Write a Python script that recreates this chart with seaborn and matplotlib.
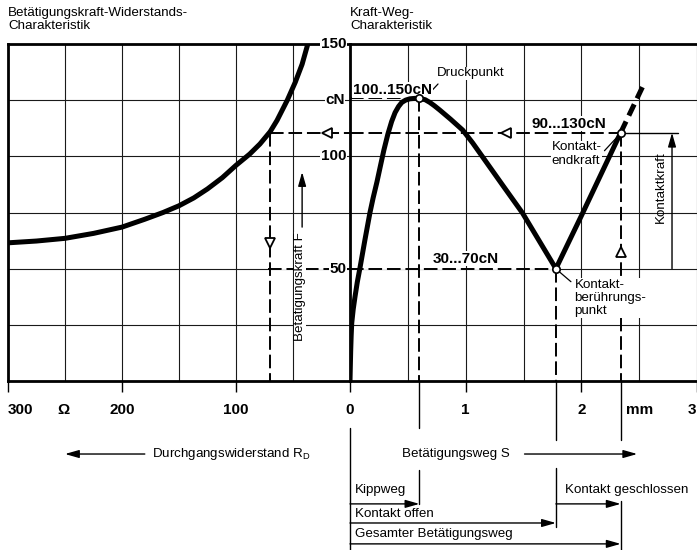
import matplotlib
matplotlib.use("Agg")
import matplotlib.pyplot as plt
import pandas as pd
import seaborn as sns

# ---- data -----------------------------------------------------------------
# Actuating force over contact resistance (left diagram)
resistance_ohm = [300, 275, 250, 225, 200, 180, 164, 150, 137, 125, 112, 100, 88, 79, 70, 64, 55,
                  48, 42, 37]
force_vs_resistance = [61.5, 62.3, 63.5, 65.7, 68.5, 72, 75, 78, 81.5, 85.5, 90.5, 96, 101, 105.5,
                       111, 116, 125, 133, 141, 150]

# Force over actuating travel (right diagram)
travel_mm = [0, 0.003, 0.006, 0.01, 0.015, 0.028, 0.043, 0.063, 0.086, 0.129, 0.172, 0.2, 0.233,
             0.262, 0.293, 0.328, 0.36, 0.39, 0.42, 0.448, 0.48, 0.517, 0.56, 0.6, 0.65, 0.69,
             0.73, 0.776, 0.87, 0.974, 1.06, 1.147, 1.319, 1.491, 1.78, 2.0, 2.34]
force_vs_travel = [0, 7, 13.4, 20, 25.8, 32, 37.4, 44, 50.3, 62.8, 74.8, 81.5, 88.6, 95.5, 102.8,
                   110, 115.5, 119.5, 122.2, 124, 125, 125.6, 125.8, 125.8, 125.2, 124, 122.5,
                   120.6, 116.5, 111.7, 106, 99.7, 87.2, 74.8, 50, 73.5, 110.5]
overtravel_mm = [2.34, 2.53]
overtravel_force = [110.5, 131]

# characteristic points
pressure_point = (0.6, 125.8)      # Druckpunkt
contact_touch = (1.78, 50)         # Kontaktberührungspunkt
contact_end = (2.34, 110.5)        # Kontaktendkraft
resistance_at_end_force = 70

ohm_ticks = [300, 200, 100]
mm_ticks = [0, 1, 2, 3]
force_labels = [150, 100, 50]
range_labels = ["100..150cN", "90...130cN", "30...70cN"]

# ---- style ----------------------------------------------------------------
sns.set_theme(style="white")
plt.rcParams["font.family"] = ["Liberation Sans", "DejaVu Sans"]
plt.rcParams["mathtext.fontset"] = "custom"
plt.rcParams["mathtext.rm"] = "Liberation Sans"
plt.rcParams["text.color"] = "black"

REG = dict(fontsize=9.6, color="black")
BOLD = dict(family=["Liberation Sans", "DejaVu Sans"], fontweight="bold", fontsize=11,
            color="black")
WHITE = dict(facecolor="white", edgecolor="none", pad=0.4)
DASH = (0, (7, 2.5))
GUIDE_LW = 1.4
CURVE_LW = 3.6

fig = plt.figure(figsize=(6.97, 5.5), dpi=100)
axL = fig.add_axes([8 / 697, 169 / 550, 342 / 697, 337 / 550])
axR = fig.add_axes([350 / 697, 169 / 550, 347 / 697, 337 / 550])

axL.set_xlim(300, 0)
axR.set_xlim(0, 2.99)
for ax in (axL, axR):
    ax.set_ylim(0, 150)
    ax.set_yticks(range(0, 151, 25))
    ax.set_yticklabels([])
    ax.tick_params(axis="y", length=0)
    ax.set_axisbelow(True)
    ax.grid(True, which="both", color="#1a1a1a", lw=0.8)
    ax.spines["right"].set_visible(False)
    for s in ("top", "left", "bottom"):
        ax.spines[s].set_linewidth(2.0)
        ax.spines[s].set_color("black")

axL.set_xticks(ohm_ticks)
axL.set_xticks([250, 150, 50, 0], minor=True)
axR.set_xticks(mm_ticks)
axR.set_xticks([0.5, 1.5, 2.5], minor=True)
for ax in (axL, axR):
    ax.set_xticklabels([])
    ax.tick_params(axis="x", which="major", direction="out", length=8, width=1, color="black",
                   bottom=True)
    ax.tick_params(axis="x", which="minor", length=0)

# ---- curves ---------------------------------------------------------------
df_res = pd.DataFrame({"R": resistance_ohm, "F": force_vs_resistance})
df_trv = pd.DataFrame({"s": travel_mm, "F": force_vs_travel})
df_ovr = pd.DataFrame({"s": overtravel_mm, "F": overtravel_force})

sns.lineplot(data=df_res, x="R", y="F", ax=axL, color="black", lw=CURVE_LW, sort=False,
             estimator=None, zorder=4, solid_capstyle="round", solid_joinstyle="round")
sns.lineplot(data=df_trv, x="s", y="F", ax=axR, color="black", lw=CURVE_LW, sort=False,
             estimator=None, zorder=4, solid_capstyle="butt", solid_joinstyle="round")
sns.lineplot(data=df_ovr, x="s", y="F", ax=axR, color="black", lw=CURVE_LW, sort=False,
             estimator=None, zorder=4, linestyle=(0, (2.5, 1.3)))
for ax in (axL, axR):
    ax.set_xlabel("")
    ax.set_ylabel("")


def guide(ax, xs, ys, under=False):
    if under:
        ax.plot(xs, ys, color="white", lw=1.3, zorder=2.5, solid_capstyle="butt")
    ax.plot(xs, ys, color="black", lw=GUIDE_LW, linestyle=DASH, zorder=3)


F_end = contact_end[1]
R_end = resistance_at_end_force
# end force level across both diagrams
guide(axL, [R_end, 0], [F_end, F_end])
guide(axR, [0, contact_end[0]], [F_end, F_end])
guide(axL, [R_end, R_end], [F_end, 0])
# pressure point
guide(axR, [0, pressure_point[0]], [pressure_point[1]] * 2, under=True)
guide(axR, [pressure_point[0]] * 2, [pressure_point[1], 0])
# contact touch point
guide(axL, [R_end + 2, 0], [contact_touch[1]] * 2, under=True)
guide(axR, [0, contact_touch[0]], [contact_touch[1]] * 2, under=True)
guide(axR, [contact_touch[0]] * 2, [contact_touch[1], 0])
# contact end point
guide(axR, [contact_end[0]] * 2, [F_end, 0])
axR.plot([contact_end[0], 2.84], [F_end, F_end], color="black", lw=1.0, zorder=3)

# open arrow heads on the guide lines
mk = dict(mfc="white", mec="black", mew=1.3, ms=7, zorder=5, linestyle="none")
axL.plot([20], [F_end], marker="<", **mk)
axR.plot([1.345], [F_end], marker="<", **mk)
axL.plot([R_end], [61.4], marker="v", **mk)
axR.plot([contact_end[0]], [57.4], marker="^", **mk)

# characteristic points
pts = pd.DataFrame({"s": [pressure_point[0], contact_touch[0], contact_end[0]],
                    "F": [pressure_point[1], contact_touch[1], contact_end[1]]})
sns.scatterplot(data=pts, x="s", y="F", ax=axR, s=28, facecolor="white", edgecolor="black",
                linewidth=1.2, zorder=6)
axR.set_xlabel("")
axR.set_ylabel("")


def arrow(ax, x0, y0, x1, y1, lw=1.0):
    ax.annotate("", xy=(x1, y1), xytext=(x0, y0), xycoords="data", annotation_clip=False,
                arrowprops=dict(arrowstyle="-|>,head_length=0.7,head_width=0.2", color="black",
                                lw=lw, shrinkA=0, shrinkB=0), zorder=5)


def vline(ax, x, y0, y1):
    ax.plot([x, x], [y0, y1], color="black", lw=1.0, clip_on=False, zorder=3)


# force arrows
arrow(axL, 42, 68.5, 42, 93)
arrow(axR, 2.784, 50, 2.784, F_end)

# ---- texts ----------------------------------------------------------------
fig.text(8 / 697, 1 - 7 / 550, "Betätigungskraft-Widerstands-\nCharakteristik", va="top",
         ha="left", linespacing=1.1, **REG)
fig.text(350 / 697, 1 - 7 / 550, "Kraft-Weg-\nCharakteristik", va="top", ha="left",
         linespacing=1.1, **REG)

# force scale between the two diagrams
for v in force_labels:
    axR.text(-0.03, v, str(v), ha="right", va="center", clip_on=False, bbox=WHITE, zorder=6,
             **BOLD)
axR.text(-0.045, 125, "cN", ha="right", va="center", clip_on=False, bbox=WHITE, zorder=6, **BOLD)

# bottom scales
for v in ohm_ticks:
    axL.text(v, -12.9, str(v), ha="left" if v == 300 else "center", va="center", clip_on=False,
             **BOLD)
axL.text(251, -12.9, "Ω", ha="center", va="center", clip_on=False, **BOLD)
for v in mm_ticks:
    axR.text(2.99 if v == 3 else v, -12.9, str(v), ha="right" if v == 3 else "center",
             va="center", clip_on=False, **BOLD)
axR.text(2.5, -12.9, "mm", ha="center", va="center", clip_on=False, **BOLD)

# labels inside the diagrams
axR.text(0.75, 137, "Druckpunkt", ha="left", va="center", bbox=WHITE, zorder=3.5, **REG)
axR.plot([0.69, 0.761], [128.3, 132.2], color="black", lw=0.9, zorder=3)
axR.text(0.026, 129.5, range_labels[0], ha="left", va="center", bbox=WHITE, zorder=3.5, **BOLD)
axR.text(1.569, 114.5, range_labels[1], ha="left", va="center", bbox=WHITE, zorder=3.5, **BOLD)
axR.text(0.716, 54.5, range_labels[2], ha="left", va="center", bbox=WHITE, zorder=3.5, **BOLD)
axR.text(1.741, 101.0, "Kontakt-\nendkraft", ha="left", va="center", linespacing=1.15,
         bbox=WHITE, zorder=3.5, **REG)
axR.plot([2.2, 2.31], [102.5, 108.6], color="black", lw=0.9, zorder=3)
axR.text(1.94, 37, "Kontakt-\nberührungs-\npunkt", ha="left", va="center", linespacing=1.15,
         bbox=WHITE, zorder=3.5, **REG)
axR.plot([1.81, 1.91], [48.6, 44.2], color="black", lw=0.9, zorder=3)
axR.text(2.685, 86.3, "Kontaktkraft", rotation=90, ha="center", va="center", zorder=3.5, **REG)
axL.text(44, 41.8, "Betätigungskraft F", rotation=90, ha="center", va="center",
         bbox=dict(facecolor="white", edgecolor="none", pad=0.2), zorder=3.5, **REG)

# ---- travel annotations below the axis -------------------------------------
Y_ROW = -32.5
vline(axR, pressure_point[0], 0, -20.9)
vline(axR, contact_touch[0], 0, -26.3)
vline(axR, contact_end[0], 0, -26.3)
vline(axR, 0, -20.9, -76)

axL.text(173.7, Y_ROW, r"Durchgangswiderstand R$_\mathrm{D}$", ha="left", va="center",
         clip_on=False, **REG)
arrow(axL, 180, Y_ROW, 250, Y_ROW, lw=1.0)
axR.text(0.448, Y_ROW, "Betätigungsweg S", ha="left", va="center", clip_on=False, **REG)
arrow(axR, 1.509, Y_ROW, 2.483, Y_ROW, lw=1.0)

vline(axR, pressure_point[0], -39.6, -54.7)
vline(axR, contact_touch[0], -38.7, -65.1)
vline(axR, contact_end[0], -53.4, -76)

arrow(axR, 0, -54.7, pressure_point[0], -54.7)
arrow(axR, contact_touch[0], -54.7, contact_end[0], -54.7)
arrow(axR, 0, -63.2, contact_touch[0], -63.2)
arrow(axR, 0, -72.5, contact_end[0], -72.5)

axR.text(0.043, -48.5, "Kippweg", ha="left", va="center", clip_on=False, **REG)
axR.text(1.86, -48.5, "Kontakt geschlossen", ha="left", va="center", clip_on=False, **REG)
axR.text(0.043, -59.4, "Kontakt offen", ha="left", va="center", clip_on=False, **REG)
axR.text(0.043, -68.3, "Gesamter Betätigungsweg", ha="left", va="center", clip_on=False, **REG)

fig.savefig("out.png", dpi=100, facecolor="white")
